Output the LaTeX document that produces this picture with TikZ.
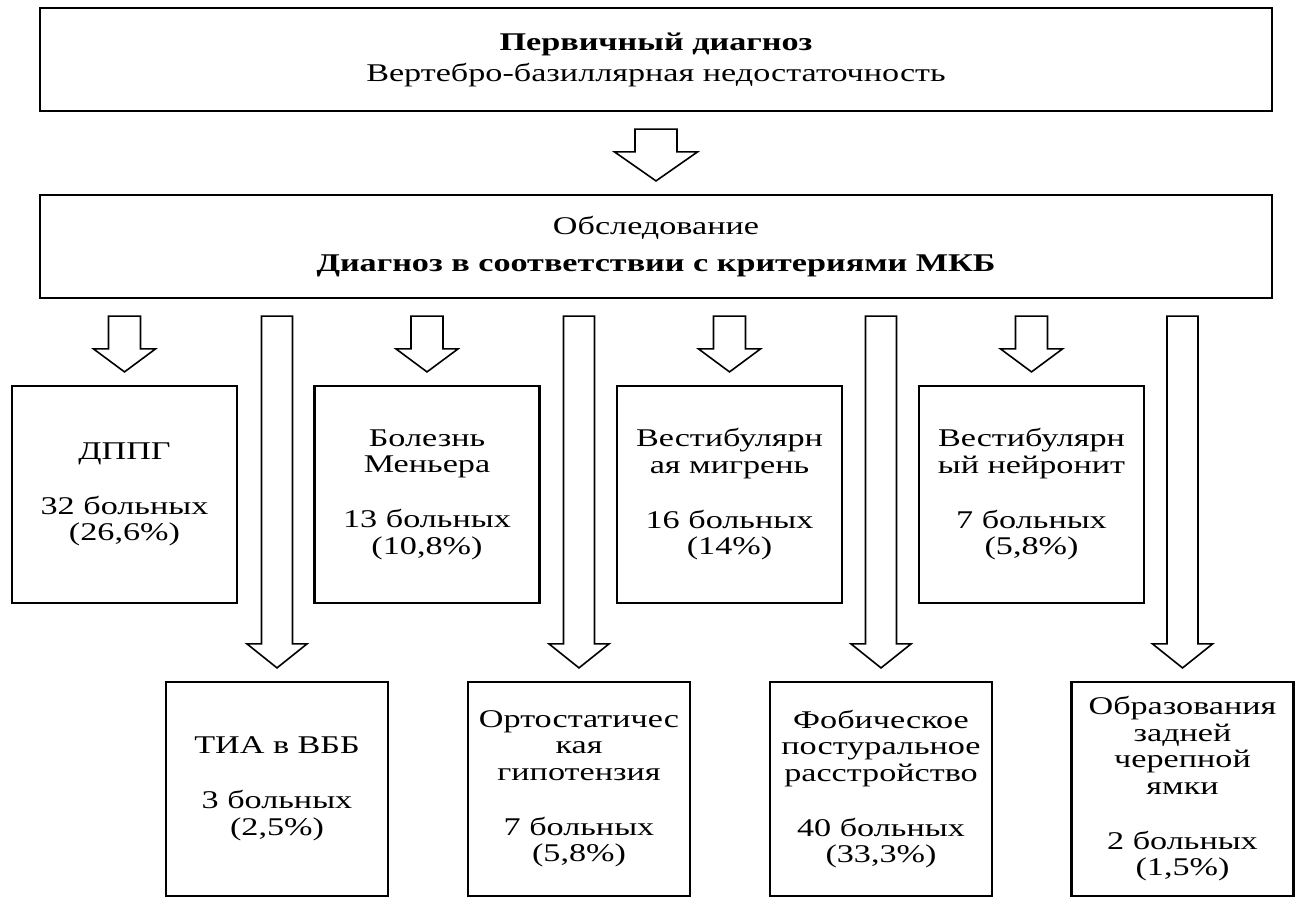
\documentclass[tikz,border=0pt]{standalone}
\usepackage{fontspec}
\setmainfont{Liberation Serif}[FakeStretch=1.34]
\usetikzlibrary{calc}

\begin{document}
\begin{tikzpicture}[x=1pt,y=1pt,main node/.style={draw,line width=2.2pt,align=center,inner sep=0pt,font=\fontsize{25.5}{26.5}\selectfont},wide node/.style={main node,minimum width=1232,minimum height=103},upper node/.style={main node,minimum width=225,minimum height=217},lower node/.style={main node,minimum width=222,minimum height=214},fat/.style n args={3}{draw,line width=1.6pt,fill=white,to path={let \p1=(\tikztostart),\p2=(\tikztotarget) in (\x1-#1,\y1-17) -- (\x1+#1,\y1-17) -- (\x1+#1,\y2+13+#3) -- (\x1+#2,\y2+13+#3) -- (\x1,\y2+13) -- (\x1-#2,\y2+13+#3) -- (\x1-#1,\y2+13+#3) -- cycle}}]
                        \useasboundingbox (0,0) rectangle (1300,-898);

                        \node[wide node] (1) at (656,-59.5) {\textbf{Первичный диагноз}\\[4.5pt]Вертебро-базиллярная недостаточность};
                        \node[wide node] (2) at (656,-246.5) {Обследование\\[10.5pt]\textbf{Диагноз в соответствии с критериями МКБ}};

                        \node[upper node] (3) at (124.5,-494.5) {ДППГ\\[28.5pt]32 больных\\(26,6\%)};
                        \node[upper node] (4) at (427,-494.5) {Болезнь\\Меньера\\[28.5pt]13 больных\\(10,8\%)};
                        \node[upper node] (5) at (729.5,-494.5) {Вестибулярн\\ая мигрень\\[28.5pt]16 больных\\(14\%)};
                        \node[upper node] (6) at (1031.5,-494.5) {Вестибулярн\\ый нейронит\\[28.5pt]7 больных\\(5,8\%)};

                        \node[lower node] (7) at (277,-789) {ТИА в ВББ\\[28.5pt]3 больных\\(2,5\%)};
                        \node[lower node] (8) at (579,-789) {Ортостатичес\\кая\\гипотензия\\[28.5pt]7 больных\\(5,8\%)};
                        \node[lower node] (9) at (881,-789) {Фобическое\\постуральное\\расстройство\\[28.5pt]40 больных\\(33,3\%)};
                        \node[lower node] (10) at (1182.5,-789) {Образования\\задней\\черепной\\ямки\\[28.5pt]2 больных\\(1,5\%)};

                        \path
                            (1.south) edge[fat={21}{41.5}{29}] (2.north)
                        ;

                        \path
                            (2.south -| 3.north) edge[fat={16}{31}{23}] (3.north)
                            (2.south -| 4.north) edge[fat={16}{31}{23}] (4.north)
                            (2.south -| 5.north) edge[fat={16}{31}{23}] (5.north)
                            (2.south -| 6.north) edge[fat={16}{31}{23}] (6.north)
                        ;

                        \path
                            (2.south -| 7.north) edge[fat={15.5}{30}{24}] (7.north)
                            (2.south -| 8.north) edge[fat={15.5}{30}{24}] (8.north)
                            (2.south -| 9.north) edge[fat={15.5}{30}{24}] (9.north)
                            (2.south -| 10.north) edge[fat={15.5}{30}{24}] (10.north)
                        ;

                    \end{tikzpicture}
\end{document}
